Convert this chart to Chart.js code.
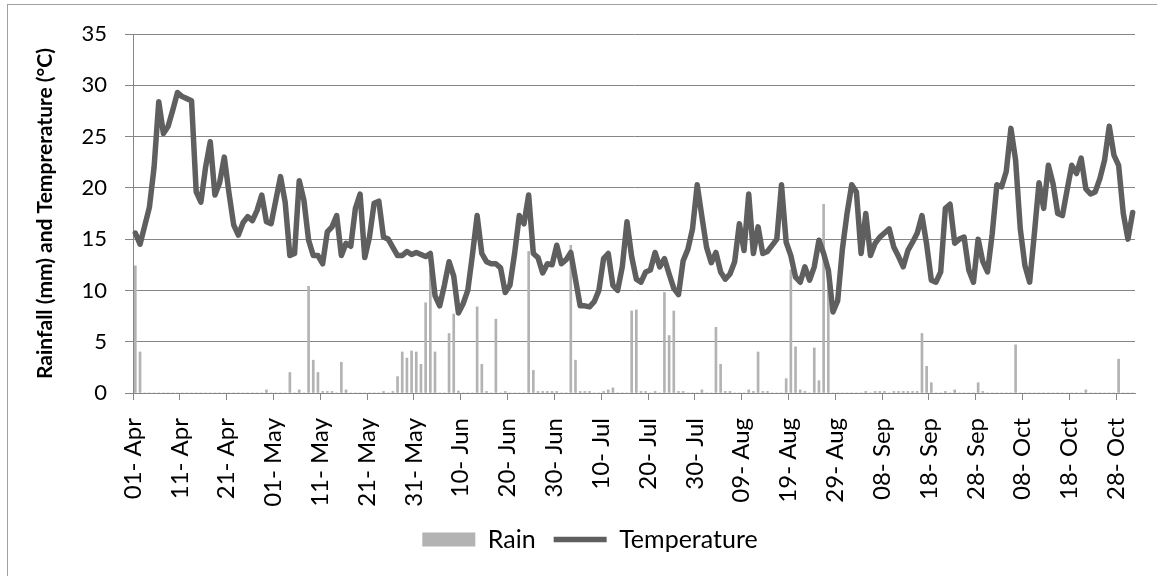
<!DOCTYPE html>
<html>
<head>
<meta charset="utf-8">
<script src="https://cdn.jsdelivr.net/npm/chart.js@4.4.0/dist/chart.umd.min.js"></script>
<style>
    html, body { margin: 0; padding: 0; background: #fff; }
    #quadro { position: relative; width: 1157px; height: 576px; overflow: hidden; }
    #moldura { position: absolute; left: 7px; top: 4px; width: 1200px; height: 600px;
               border-left: 1px solid #a0a0a0; border-top: 1px solid #a0a0a0; }
    canvas { position: absolute; left: 0; top: 0; }
</style>
</head>
<body>
<div id="quadro">
    <div id="moldura"></div>
    <canvas id="grafico" width="1157" height="576"></canvas>
</div>
<script>
// dias de 01-Apr a 31-Oct
const meses = ["Apr", "May", "Jun", "Jul", "Aug", "Sep", "Oct"];
const diasNoMes = [30, 31, 30, 31, 31, 30, 31];

const temperatura = [
    15.6, 14.5, 16.3, 18.1, 22.0, 28.4, 25.3, 26.0, 27.6, 29.3,
    28.9, 28.7, 28.5, 19.6, 18.6, 22.0, 24.5, 19.3, 20.5, 23.0,
    19.5, 16.4, 15.4, 16.6, 17.2, 16.8, 17.8, 19.3, 16.7, 16.5,
    18.8, 21.1, 18.6, 13.4, 13.6, 20.7, 18.8, 14.9, 13.4, 13.4,
    12.6, 15.7, 16.2, 17.3, 13.4, 14.6, 14.3, 18.0, 19.4, 13.2,
    15.2, 18.5, 18.7, 15.2, 15.0, 14.2, 13.4, 13.4, 13.8, 13.5,
    13.7, 13.5, 13.3, 13.6, 9.5, 8.5, 10.5, 12.8, 11.4, 7.8,
    8.7, 10.0, 13.5, 17.3, 13.6, 12.8, 12.6, 12.6, 12.2, 9.8,
    10.5, 13.6, 17.3, 16.5, 19.3, 13.6, 13.2, 11.7, 12.6, 12.5,
    14.4, 12.6, 13.0, 13.7, 11.1, 8.5, 8.5, 8.4, 8.9, 10.0,
    13.1, 13.6, 10.5, 10.0, 12.3, 16.7, 13.3, 11.1, 10.8, 11.8,
    12.0, 13.7, 12.3, 13.1, 11.6, 10.2, 9.6, 12.9, 14.0, 16.0,
    20.3, 17.2, 14.2, 12.7, 13.7, 11.8, 11.1, 11.6, 12.8, 16.5,
    13.9, 19.4, 13.6, 16.2, 13.6, 13.8, 14.4, 15.0, 20.3, 14.7,
    13.4, 11.3, 10.8, 12.3, 11.0, 12.3, 14.9, 13.6, 12.0, 7.9,
    9.0, 14.0, 17.5, 20.3, 19.6, 13.6, 17.5, 13.4, 14.6, 15.2,
    15.6, 16.0, 14.2, 13.3, 12.3, 13.9, 14.7, 15.6, 17.3, 14.5,
    11.0, 10.8, 11.8, 18.0, 18.4, 14.6, 15.0, 15.2, 12.0, 10.8,
    15.0, 12.8, 11.8, 15.5, 20.3, 20.1, 21.6, 25.8, 22.7, 16.0,
    12.4, 10.8, 15.5, 20.5, 18.0, 22.2, 20.4, 17.5, 17.3, 19.8,
    22.2, 21.4, 22.9, 19.9, 19.4, 19.6, 20.9, 22.7, 26.0, 23.2,
    22.2, 17.5, 15.0, 17.6
];

const chuva = [
    12.4, 4.0, 0, 0, 0, 0, 0, 0, 0, 0,
    0, 0, 0, 0, 0, 0, 0, 0, 0, 0,
    0, 0, 0, 0, 0, 0, 0, 0, 0.3, 0,
    0, 0, 0, 2.0, 0, 0.3, 0, 10.4, 3.2, 2.0,
    0.15, 0.15, 0.15, 0, 3.0, 0.3, 0, 0, 0, 0,
    0, 0, 0, 0.15, 0, 0.15, 1.6, 4.0, 3.4, 4.1,
    4.0, 2.8, 8.8, 12.0, 4.0, 0, 0, 5.8, 7.7, 0.2,
    0, 0, 0, 8.4, 2.8, 0.15, 0, 7.2, 0, 0.15,
    0, 0, 0, 0, 13.8, 2.2, 0.15, 0.15, 0.15, 0.15,
    0.15, 0, 0, 14.4, 3.2, 0.15, 0.15, 0.15, 0, 0,
    0.15, 0.3, 0.5, 0, 0, 0, 8.0, 8.1, 0.15, 0.15,
    0, 0.15, 0, 9.8, 5.6, 8.0, 0.15, 0.15, 0, 0,
    0, 0.3, 0, 0, 6.4, 2.8, 0.15, 0.15, 0, 0,
    0, 0.3, 0.15, 4.0, 0.15, 0.15, 0, 0, 0, 1.4,
    12.0, 4.5, 0.3, 0.15, 0, 4.4, 1.2, 18.4, 11.5, 0,
    0, 0, 0, 0, 0, 0, 0.15, 0, 0.15, 0.15,
    0.15, 0, 0.15, 0.15, 0.15, 0.15, 0.15, 0.15, 5.8, 2.6,
    1.0, 0, 0, 0.15, 0, 0.3, 0, 0, 0, 0,
    1.0, 0.15, 0, 0, 0, 0, 0, 0, 4.7, 0,
    0, 0, 0, 0, 0, 0, 0, 0, 0, 0,
    0, 0, 0, 0.3, 0, 0, 0, 0, 0, 0,
    3.3, 0, 0, 0
];

const datas = [];
meses.forEach((mes, k) => {
    for (let dia = 1; dia <= diasNoMes[k]; dia++) {
        datas.push(String(dia).padStart(2, "0") + "- " + mes);
    }
});

const cinzaEixo = "#868686";

// empurra a legenda um pouco para a direita, como no original
const ajusteLegenda = {
    id: "ajusteLegenda",
    beforeDraw(chart) {
        chart.legend.left = 26;
        chart.legend.right = 1154;
    }
};

Chart.defaults.color = "#000";

const ctx = document.getElementById("grafico");

const myChart = new Chart(ctx, {
    type: "bar",
    data: {
        labels: datas,
        datasets: [{
            type: "bar",
            label: "Rain",
            data: chuva,
            backgroundColor: "#b3b3b3",
            borderColor: "#b3b3b3",
            borderWidth: 0,
            barThickness: 2,
            pointStyle: "rect",
            order: 1
        }, {
            type: "line",
            label: "Temperature",
            data: temperatura,
            borderColor: "#5f5f5f",
            backgroundColor: "#5f5f5f",
            borderWidth: 5.5,
            pointRadius: 0,
            tension: 0,
            borderJoinStyle: "round",
            borderCapStyle: "round",
            pointStyle: "line",
            order: 0
        }]
    },
    plugins: [ajusteLegenda],
    options: {
        responsive: false,
        animation: false,
        devicePixelRatio: 1,
        layout: { padding: { left: 7, right: 22, top: 34, bottom: 14 } },
        plugins: {
            tooltip: { enabled: false },
            legend: {
                position: "bottom",
                labels: {
                    usePointStyle: true,
                    pointStyleWidth: 53,
                    boxHeight: 14,
                    padding: 18,
                    font: { family: "Lato", size: 25 },
                    color: "#000",
                    sort: (a, b) => a.datasetIndex - b.datasetIndex
                }
            }
        },
        scales: {
            x: {
                offset: true,
                afterFit: (escala) => {
                    escala.height = 116;
                    escala.paddingLeft = 0;
                    escala.paddingRight = 0;
                },
                grid: {
                    offset: true,
                    drawOnChartArea: false,
                    tickLength: 7,
                    color: (c) => c.index % 10 === 0 ? cinzaEixo : "rgba(0,0,0,0)"
                },
                border: { color: cinzaEixo },
                ticks: {
                    autoSkip: false,
                    minRotation: 90,
                    maxRotation: 90,
                    labelOffset: -2.34,
                    padding: 18,
                    font: { family: "Lato", size: 24 },
                    color: "#000",
                    callback: (valor, i) => i % 10 === 0 ? datas[i] : ""
                }
            },
            y: {
                min: 0,
                max: 35,
                afterFit: (escala) => { escala.width = 126; },
                grid: { color: cinzaEixo, tickLength: 8 },
                border: { color: cinzaEixo },
                ticks: { stepSize: 5, padding: 18, font: { family: "Lato", size: 22 }, color: "#000" },
                title: {
                    display: true,
                    text: "Rainfall (mm) and Temprerature (°C)",
                    font: { family: "Lato", size: 21, weight: "bold" },
                    color: "#000",
                    padding: { top: 26, bottom: 0 }
                }
            }
        }
    }
});
</script>
</body>
</html>
